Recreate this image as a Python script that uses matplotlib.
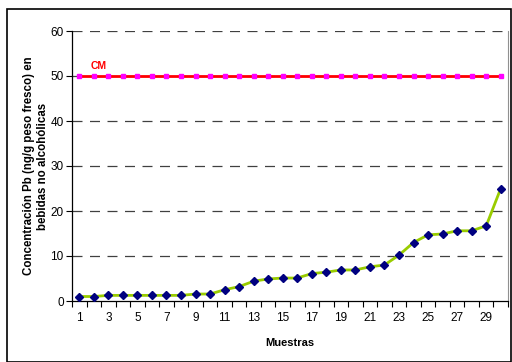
import numpy as np
import matplotlib
matplotlib.use("Agg")
import matplotlib.pyplot as plt
from matplotlib.patches import Rectangle

# Pb concentration per sample, sorted ascending
muestras = list(range(1, 31))
pb = [1.0, 1.0, 1.25, 1.25, 1.25, 1.25, 1.25, 1.25, 1.55, 1.55,
      2.5, 3.2, 4.4, 4.9, 5.1, 5.1, 6.1, 6.4, 6.9, 6.9,
      7.6, 8.0, 10.2, 13.0, 14.7, 14.9, 15.6, 15.6, 16.7, 25.0]
cm = [50] * 30  # maximum content limit
tick_labels = [str(i) for i in range(1, 30, 2)]

plt.rcParams['font.family'] = ['Liberation Sans', 'DejaVu Sans']

fig = plt.figure(figsize=(5.12, 3.62), dpi=100)
fig.patches.append(Rectangle((7 / 512, 0.0), 1 - 8 / 512, 1 - 9 / 362,
                             transform=fig.transFigure, fill=False,
                             edgecolor='black', linewidth=1.2))
ax = fig.add_axes([72 / 512, 1 - 301 / 362, 436 / 512, 270 / 362])

ax.plot(muestras, cm, color='#FF0000', linewidth=2, marker='s',
        markersize=3, markerfacecolor='#FF00FF', markeredgecolor='#FF00FF', zorder=3)
ax.plot(muestras, pb, color='#99CC00', linewidth=2, marker='D',
        markersize=4, markerfacecolor='#000080', markeredgecolor='#000080', zorder=3)
ax.text(1.8, 51.5, 'CM', color='#FF0000', fontsize=7.5, fontweight='bold')

ax.set_xlim(0.5, 30.5)
ax.set_ylim(0, 60)
ax.set_yticks(range(0, 61, 10))
ax.set_xticks(range(1, 30, 2))
ax.set_xticklabels(tick_labels)
ax.set_xticks(np.arange(0.5, 31, 1), minor=True)
ax.tick_params(axis='x', which='major', length=0, pad=8, labelsize=8.5)
ax.tick_params(axis='x', which='minor', length=4, width=0.8, direction='out')
ax.tick_params(axis='y', length=4, width=0.8, labelsize=8.5, pad=2)

for v in range(10, 61, 10):
    ax.axhline(v, color='#404040', linestyle=(0, (8, 6)), linewidth=0.9, zorder=1)

ax.spines['top'].set_visible(False)
ax.spines['right'].set_color('#909090')
ax.spines['left'].set_linewidth(0.9)
ax.spines['bottom'].set_linewidth(0.9)

ax.set_xlabel('Muestras', fontsize=8, fontweight='bold', labelpad=10)
ax.set_ylabel('Concentración Pb (ng/g peso fresco) en\nbebidas no alcohólicas',
              fontsize=8.3, fontweight='bold', labelpad=1)

fig.savefig('out.png', dpi=100)
